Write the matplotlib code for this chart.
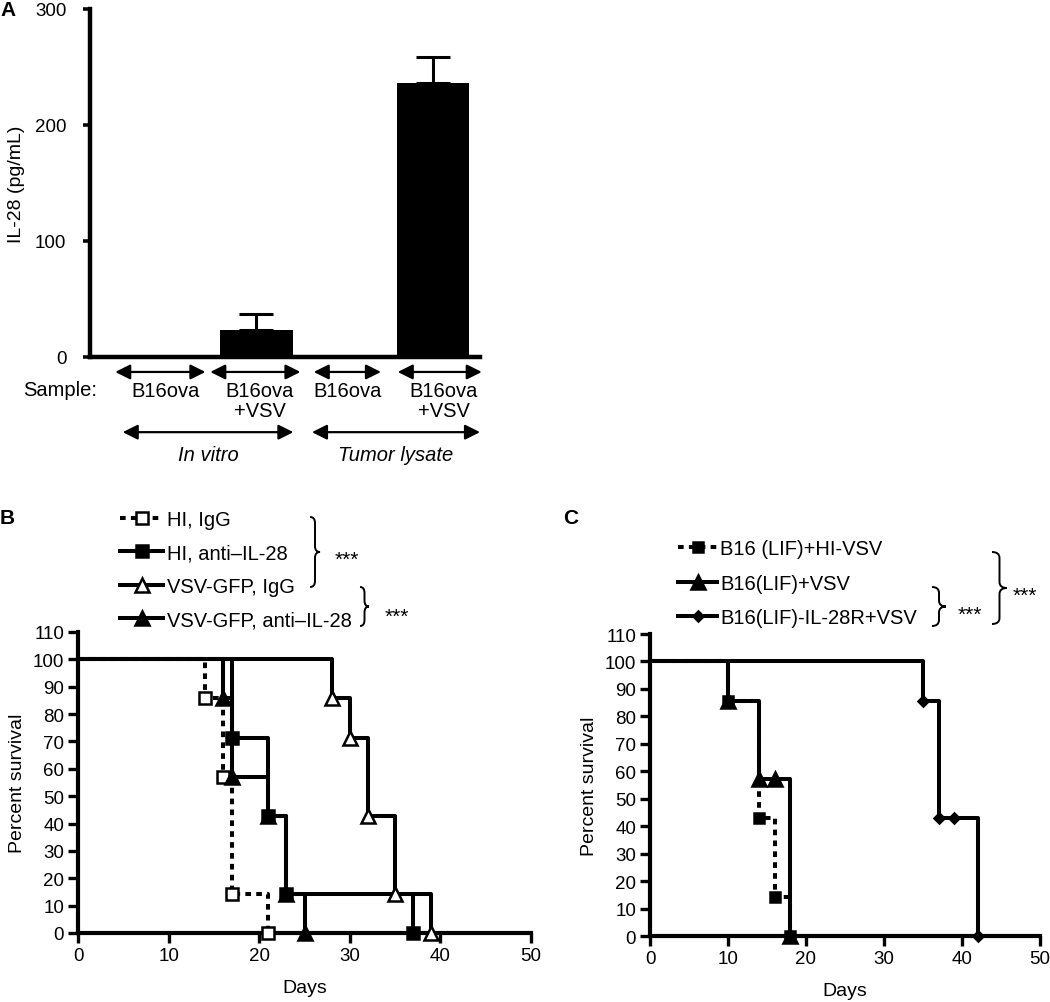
import matplotlib
matplotlib.use('Agg')
import matplotlib.pyplot as plt
from matplotlib.lines import Line2D
from matplotlib.path import Path
from matplotlib.patches import PathPatch

plt.rcParams['font.family'] = ['Liberation Sans', 'DejaVu Sans']

# ---------------- data ----------------
# Panel A
a_categories = ['B16ova', 'B16ova\n+VSV', 'B16ova', 'B16ova\n+VSV']
a_values = [0, 23, 0, 236]
a_errors = [0, 13.7, 0, 22.4]
a_groups = ['In vitro', 'Tumor lysate']
a_yticks = [0, 100, 200, 300]

# Panel B (days, percent survival)
b_labels = ['HI, IgG', 'HI, anti\u2013IL-28', 'VSV-GFP, IgG', 'VSV-GFP, anti\u2013IL-28']
b_hi_igg_days = [0, 14, 16, 17, 21]
b_hi_igg_surv = [100, 85.7, 57.1, 14.3, 0]
b_hi_anti_days = [0, 17, 21, 23, 37]
b_hi_anti_surv = [100, 71.4, 42.9, 14.3, 0]
b_vsv_igg_days = [0, 28, 30, 32, 35, 39]
b_vsv_igg_surv = [100, 85.7, 71.4, 42.9, 14.3, 0]
b_vsv_anti_days = [0, 16, 17, 21, 23, 25]
b_vsv_anti_surv = [100, 85.7, 57.1, 42.9, 14.3, 0]

# Panel C
c_labels = ['B16 (LIF)+HI-VSV', 'B16(LIF)+VSV', 'B16(LIF)-IL-28R+VSV']
c_hi_days = [0, 10, 14, 16, 18]
c_hi_surv = [100, 85.7, 42.9, 14.3, 0]
c_vsv_days = [0, 10, 14, 16, 18]
c_vsv_surv = [100, 85.7, 57.1, 57.1, 0]
c_il28r_days = [0, 35, 37, 39, 42]
c_il28r_surv = [100, 85.7, 42.9, 42.9, 0]

days_ticks = [0, 10, 20, 30, 40, 50]
surv_ticks = list(range(0, 111, 10))
stars = '***'

# ---------------- figure ----------------
W, H = 1050, 1003
fig = plt.figure(figsize=(W / 100, H / 100), dpi=100)
FS_TICK = 13.5
FS_LAB = 14
FS_TXT = 14.5
FS_LEG = 14.5


def px_rect(x0, y0, x1, y1):
    return [x0 / W, 1 - y1 / H, (x1 - x0) / W, (y1 - y0) / H]


def fx(x):
    return x / W


def fy(y):
    return 1 - y / H


def brace(x0, ytop, ybot, w, lw=1.4):
    xm = x0 + w * 0.5
    xt = x0 + w
    ym = (ytop + ybot) / 2
    q = min(6, (ybot - ytop) / 6)
    pts = [(x0, ytop), (xm, ytop), (xm, ytop + q),
           (xm, ym - q), (xm, ym), (xt, ym),
           (xm, ym), (xm, ym + q),
           (xm, ybot - q), (xm, ybot), (x0, ybot)]
    codes = [Path.MOVETO, Path.CURVE3, Path.CURVE3,
             Path.LINETO, Path.CURVE3, Path.CURVE3,
             Path.CURVE3, Path.CURVE3,
             Path.LINETO, Path.CURVE3, Path.CURVE3]
    verts = [(fx(x), fy(y)) for x, y in pts]
    fig.patches.append(PathPatch(Path(verts, codes), transform=fig.transFigure,
                                 fill=False, lw=lw, color='k'))


def put_stars(x, yc):
    # baseline placed so the asterisks are centred on yc
    fig.text(fx(x), fy(yc + 11), stars, fontsize=15, ha='left', va='baseline')


def style_axes(ax, spine_lw, length=7, pad=3):
    for s in ['top', 'right']:
        ax.spines[s].set_visible(False)
    for s in ['left', 'bottom']:
        ax.spines[s].set_linewidth(spine_lw)
    ax.tick_params(direction='out', length=length, width=spine_lw * 0.8,
                   labelsize=FS_TICK, pad=pad, color='k')


# ---------------- Panel A ----------------
axA = fig.add_axes(px_rect(90, 10, 480, 358))
xs = list(range(len(a_values)))
axA.bar(xs, a_values, width=0.82, color='black', zorder=2)
axA.errorbar(xs, a_values, yerr=[[0] * len(a_errors), a_errors], fmt='none',
             ecolor='black', elinewidth=2.2, capsize=12, capthick=2.2, zorder=1)
axA.set_xlim(-0.88, 3.53)
axA.set_ylim(0, 300)
axA.set_yticks(a_yticks)
axA.set_xticks([])
style_axes(axA, 3.2, length=5, pad=12)
axA.set_ylabel('IL-28 (pg/mL)', fontsize=FS_LAB, labelpad=7)

tr = axA.get_xaxis_transform()
arrow_kw = dict(arrowstyle='<|-|>,head_length=0.9,head_width=0.45', color='k',
                lw=1.6, shrinkA=0, shrinkB=0, mutation_scale=10)
small_spans = [(-0.595, 0.425), (0.48, 1.50), (1.65, 2.41), (2.60, 3.55)]
label_offsets = [-0.02, 1.04, 2.03, 3.12]
for (x0, x1) in small_spans:
    axA.annotate('', xy=(x1, -0.043), xytext=(x0, -0.043), xycoords=tr,
                 textcoords=tr, arrowprops=arrow_kw, annotation_clip=False)
for xc, lab in zip(label_offsets, a_categories):
    axA.text(xc, -0.068, lab, transform=tr, ha='center', va='top',
             fontsize=FS_TXT, linespacing=1.1)
axA.text(-1.22, -0.092, 'Sample:', transform=tr, ha='center', va='center', fontsize=FS_TXT)
big_spans = [(-0.51, 1.42), (1.63, 3.53)]
for (x0, x1), g in zip(big_spans, a_groups):
    axA.annotate('', xy=(x1, -0.216), xytext=(x0, -0.216), xycoords=tr,
                 textcoords=tr, arrowprops=arrow_kw, annotation_clip=False)
    axA.text((x0 + x1) / 2, -0.279, g, transform=tr, ha='center', va='center',
             fontsize=FS_TXT, style='italic')

fig.text(fx(0), fy(11), 'A', fontsize=15, fontweight='bold', ha='left', va='center')

# ---------------- survival helper ----------------
LW = 2.9
DASH = (0, (1.4, 1.3))


def surv(ax, days, s, marker, ms, mfc, ls='-'):
    ax.plot(days, s, drawstyle='steps-post', color='k', lw=LW, ls=ls,
            marker=marker, ms=ms, mfc=mfc, mec='k', mew=1.8,
            markevery=list(range(1, len(days))), clip_on=False, zorder=3)
    return Line2D([], [], color='k', lw=LW, ls=ls, marker=marker, ms=ms,
                  mfc=mfc, mec='k', mew=1.8)


def style_surv(ax):
    ax.set_xlim(0, 50)
    ax.set_ylim(0, 110)
    ax.set_xticks(days_ticks)
    ax.set_yticks(surv_ticks)
    style_axes(ax, 3.0)
    ax.set_xlabel('Days', fontsize=FS_LAB, labelpad=11)
    ax.set_ylabel('Percent survival', fontsize=FS_LAB, labelpad=5)


# ---------------- Panel B ----------------
axB = fig.add_axes(px_rect(78, 633, 531, 934))
hB = [
    surv(axB, b_hi_igg_days, b_hi_igg_surv, 's', 8, 'white', DASH),
    surv(axB, b_hi_anti_days, b_hi_anti_surv, 's', 8, 'black'),
    surv(axB, b_vsv_igg_days, b_vsv_igg_surv, '^', 9.5, 'white'),
    surv(axB, b_vsv_anti_days, b_vsv_anti_surv, '^', 9.5, 'black'),
]
style_surv(axB)
fig.legend(hB, b_labels, loc='upper left', bbox_to_anchor=(fx(120), fy(511)),
           bbox_transform=fig.transFigure, frameon=False, borderpad=0,
           borderaxespad=0, handlelength=2.15, handletextpad=0.2,
           labelspacing=0.72, fontsize=FS_LEG)
brace(310, 518, 588, 10)
put_stars(335, 555)
brace(360, 588, 627, 9)
put_stars(385, 612)
fig.text(fx(0), fy(518), 'B', fontsize=15, fontweight='bold', ha='left', va='center')

# ---------------- Panel C ----------------
axC = fig.add_axes(px_rect(650, 635, 1040, 937))
hC = [
    surv(axC, c_hi_days, c_hi_surv, 's', 7.5, 'black', DASH),
    surv(axC, c_vsv_days, c_vsv_surv, '^', 9.5, 'black'),
    surv(axC, c_il28r_days, c_il28r_surv, 'D', 5, 'black'),
]
style_surv(axC)
fig.legend(hC, c_labels, loc='upper left', bbox_to_anchor=(fx(678), fy(540)),
           bbox_transform=fig.transFigure, frameon=False, borderpad=0,
           borderaxespad=0, handlelength=1.95, handletextpad=0.15,
           labelspacing=0.78, fontsize=FS_LEG)
brace(932, 588, 627, 14)
put_stars(958, 610)
brace(992, 553, 625, 15)
put_stars(1013, 591)
fig.text(fx(563), fy(519), 'C', fontsize=15, fontweight='bold', ha='left', va='center')

fig.savefig('out.png', dpi=100)
